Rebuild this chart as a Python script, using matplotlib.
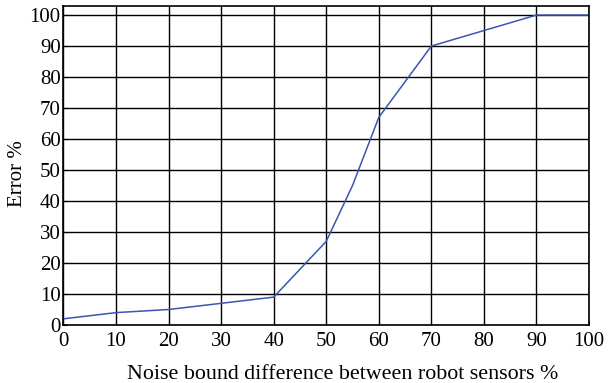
import matplotlib
matplotlib.use("Agg")
import matplotlib.pyplot as plt

# data
noise = [0, 10, 20, 30, 40, 50, 55, 60, 70, 80, 90, 100]
error = [2, 4, 5, 7, 9, 27, 45, 67, 90, 95, 100, 100]
ticks = list(range(0, 101, 10))

plt.rcParams['font.family'] = ['Liberation Serif', 'DejaVu Serif']

fig = plt.figure(figsize=(6.08, 3.83), dpi=100)
ax = fig.add_axes([0.1044, 0.1514, 0.8644, 0.8336])

ax.plot(noise, error, color='#3a56b0', linewidth=1.1)

ax.set_xlim(0, 100)
ax.set_ylim(0, 103)
ax.set_xticks(ticks)
ax.set_yticks(ticks)
ax.grid(True, color='black', linewidth=1.0)
ax.tick_params(direction='in', length=3, labelsize=15, colors='black')
ax.tick_params(axis='x', pad=5)
ax.tick_params(axis='y', pad=2)
for s in ax.spines.values():
    s.set_color('black')
    s.set_linewidth(1.2)

ax.set_xlabel('Noise bound difference between robot sensors %', fontsize=15.8)
ax.xaxis.set_label_coords(0.532, -0.125)
ax.set_ylabel('Error %', fontsize=15)
ax.yaxis.set_label_coords(-0.069, 0.474)

fig.savefig('out.png', dpi=100)
